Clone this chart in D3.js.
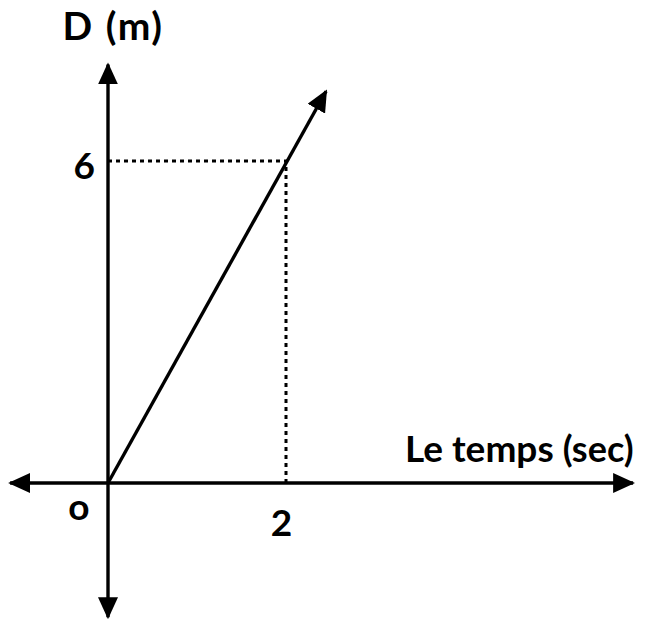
<!DOCTYPE html>
<html lang="fr">
<head>
<meta charset="UTF-8">
<title>D(t)</title>
<script src="https://cdn.jsdelivr.net/npm/d3@7/dist/d3.min.js"></script>
<style>
  body { margin: 0; background: #fff; }
  text { font-family: Lato, "Open Sans", sans-serif; font-weight: bold; fill: #000; }
</style>
</head>
<body>
<script>
// data
const timeVals = [0, 2];          // t (sec)
const distVals = [0, 6];          // D (m)
const lineEnd = [2.45, 7.3];      // where the arrow of the line stops
const xTicks = [2];
const yTicks = [6];
const xExtent = [-1.1, 5.9];
const yExtent = [-2.5, 7.8];

const width = 648, height = 622;

const x = d3.scaleLinear().domain([0, 2]).range([108, 286]);
const y = d3.scaleLinear().domain([0, 6]).range([483, 161]);

const svg = d3.select("body").append("svg")
  .attr("width", width).attr("height", height)
  .attr("viewBox", [0, 0, width, height]);

// arrow head
svg.append("defs").append("marker")
  .attr("id", "arr")
  .attr("viewBox", "0 0 22 20")
  .attr("refX", 20).attr("refY", 10)
  .attr("markerWidth", 22).attr("markerHeight", 20)
  .attr("markerUnits", "userSpaceOnUse")
  .attr("orient", "auto-start-reverse")
  .append("path").attr("d", "M0,0L22,10L0,20Z").attr("fill", "#000");

// axes lines
svg.append("line")
  .attr("x1", x(xExtent[0])).attr("x2", x(xExtent[1]))
  .attr("y1", y(0)).attr("y2", y(0))
  .attr("stroke", "#000").attr("stroke-width", 3.4)
  .attr("marker-start", "url(#arr)").attr("marker-end", "url(#arr)");

svg.append("line")
  .attr("x1", x(0)).attr("x2", x(0))
  .attr("y1", y(yExtent[0])).attr("y2", y(yExtent[1]))
  .attr("stroke", "#000").attr("stroke-width", 3.4)
  .attr("marker-start", "url(#arr)").attr("marker-end", "url(#arr)");

// dotted guides
const p = [x(timeVals[1]), y(distVals[1])];
svg.append("path")
  .attr("d", `M${x(0)},${p[1]}H${p[0]}V${y(0)}`)
  .attr("fill", "none").attr("stroke", "#000")
  .attr("stroke-width", 3).attr("stroke-dasharray", "4,4");

// the line D = 3t
const line = d3.line().x(d => x(d[0])).y(d => y(d[1]));
svg.append("path")
  .datum([[timeVals[0], distVals[0]], lineEnd])
  .attr("d", line)
  .attr("fill", "none").attr("stroke", "#000").attr("stroke-width", 3.4)
  .attr("marker-end", "url(#arr)");

// tick labels through axes
svg.append("g")
  .attr("transform", `translate(-5,${y(0)})`)
  .call(d3.axisBottom(x).tickValues(xTicks).tickFormat(d3.format("d")).tickSize(0).tickPadding(27))
  .call(g => g.select(".domain").remove())
  .call(g => g.selectAll("text").attr("font-size", 37).attr("font-family", null));

svg.append("g")
  .attr("transform", `translate(${x(0)},6)`)
  .call(d3.axisLeft(y).tickValues(yTicks).tickFormat(d3.format("d")).tickSize(0).tickPadding(13))
  .call(g => g.select(".domain").remove())
  .call(g => g.selectAll("text").attr("font-size", 37).attr("font-family", null));

svg.append("text")
  .attr("x", x(0) - 29).attr("y", y(0) + 37)
  .attr("text-anchor", "middle").attr("font-size", 37)
  .text("o");

svg.append("text")
  .attr("x", 113).attr("y", 40)
  .attr("text-anchor", "middle").attr("font-size", 39)
  .attr("word-spacing", 1).attr("letter-spacing", 1.5)
  .text("D (m)");

const tl = svg.append("text")
  .attr("x", 405).attr("y", 462)
  .attr("font-size", 37);
tl.append("tspan").text("Le temps ");
tl.append("tspan").attr("font-size", 36).text("(sec)");
</script>
</body>
</html>
